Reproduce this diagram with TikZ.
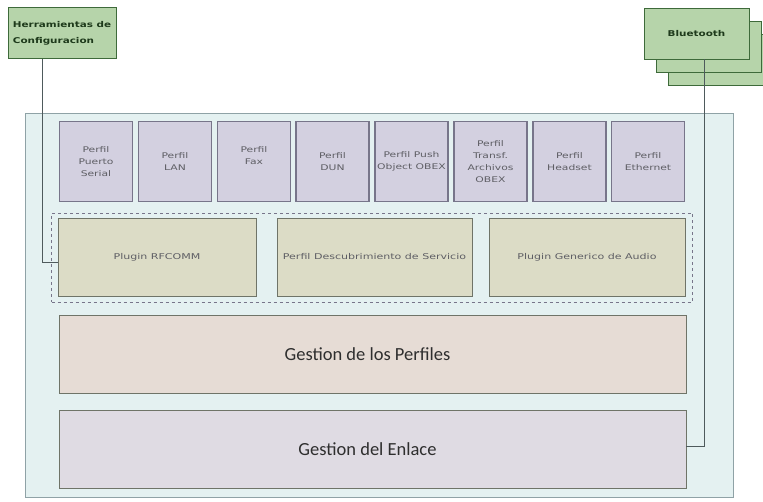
\documentclass[tikz,border=0pt]{standalone}
\usepackage{fontspec}
\setmainfont{DejaVu Sans}
\newfontfamily\bigfont{Carlito}
\newfontfamily\smallfont[FakeStretch=1.38]{DejaVu Sans}
\newfontfamily\labelfont[FakeStretch=1.3]{DejaVu Sans}
\definecolor{sysfill}{HTML}{E4F1F1}
\definecolor{sysdraw}{HTML}{8FA2A6}
\definecolor{proffill}{HTML}{D3D0E0}
\definecolor{profdraw}{HTML}{77758A}
\definecolor{plugfill}{HTML}{DCDCC6}
\definecolor{plugdraw}{HTML}{6F7468}
\definecolor{gpfill}{HTML}{E6DCD5}
\definecolor{gefill}{HTML}{DFDBE3}
\definecolor{greenfill}{HTML}{B6D4AA}
\definecolor{greendraw}{HTML}{3E6A3A}
\definecolor{greentext}{HTML}{1E3A1B}
\definecolor{smalltext}{HTML}{5E5E64}
\definecolor{wire}{HTML}{4E5A5C}
\tikzset{
  sysbox/.style={draw=sysdraw, fill=sysfill, line width=0.9pt},
  profbox/.style={draw=profdraw, fill=proffill, line width=1.1pt,
    minimum width=73pt, minimum height=80pt, inner sep=0pt,
    align=center, text=smalltext, font=\smallfont\fontsize{7.8}{11.8}\selectfont},
  plugbox/.style={draw=plugdraw, fill=plugfill, line width=0.9pt,
    minimum height=78pt, inner sep=0pt, text=smalltext,
    font=\smallfont\fontsize{8}{10}\selectfont},
  layerbox/.style={draw=plugdraw, line width=0.9pt, minimum width=627pt,
    minimum height=78pt, inner sep=0pt, text=black!82,
    font=\bigfont\fontsize{18.5}{20}\selectfont},
  greenbox/.style={draw=greendraw, fill=greenfill, line width=0.9pt,
    inner sep=0pt, text=greentext, font=\labelfont\bfseries\fontsize{8}{16}\selectfont},
  groupbox/.style={draw=profdraw, dashed, line width=0.7pt},
  wireline/.style={draw=wire, line width=0.8pt}
}
\begin{document}
\begin{tikzpicture}[x=1pt, y=-1pt]
\useasboundingbox (0,0) rectangle (763,502);
% system frame
\node[sysbox, minimum width=708pt, minimum height=384pt, inner sep=0pt] (sys) at (379,305) {};
% profile row
\node[profbox] (p1) at (96,161.5)  {Perfil\\Puerto\\Serial};
\node[profbox] (p2) at (175,161.5) {Perfil\\LAN};
\node[profbox] (p3) at (254,161.5) {Perfil\\Fax\\\mbox{}};
\node[profbox] (p4) at (332.5,161.5) {Perfil\\DUN};
\node[profbox] (p5) at (411.5,161.5) {Perfil Push\\Object OBEX};
\node[profbox] (p6) at (490.5,161.5) {Perfil\\Transf.\\Archivos\\OBEX};
\node[profbox] (p7) at (569.5,161.5) {Perfil\\Headset};
\node[profbox] (p8) at (648,161.5) {Perfil\\Ethernet};
% plugin group
\node[groupbox, minimum width=641pt, minimum height=89pt, inner sep=0pt] (grp) at (372,257.5) {};
\node[plugbox, minimum width=198pt] (rfcomm) at (157,257) {Plugin RFCOMM};
\node[plugbox, minimum width=195pt] (sdp) at (374.5,257) {Perfil Descubrimiento de Servicio};
\node[plugbox, minimum width=196pt] (audio) at (587,257) {Plugin Generico de Audio};
% management layers
\node[layerbox, fill=gpfill] (perf) at (372.5,354) {Gestion de los Perfiles\hspace*{10pt}};
\node[layerbox, fill=gefill] (enl) at (372.5,449) {Gestion del Enlace\hspace*{10pt}};
% external tools
\node[greenbox, minimum width=108pt, minimum height=51pt, align=left] (herr) at (62,33)
  {Herramientas de\\Configuracion};
% bluetooth stack
\node[greenbox, minimum width=105pt, minimum height=51pt] (bt3) at (720.5,60) {};
\node[greenbox, minimum width=105pt, minimum height=51pt] (bt2) at (708.5,46.5) {};
\node[greenbox, minimum width=105pt, minimum height=51pt] (bt) at (696.5,33.5) {Bluetooth};
% connectors
\draw[wireline] ([xshift=-20pt]herr.south) |- ([yshift=-5pt]rfcomm.west);
\draw[wireline] ([xshift=8pt]bt.south) |- ([yshift=3pt]enl.east);
\end{tikzpicture}
\end{document}
